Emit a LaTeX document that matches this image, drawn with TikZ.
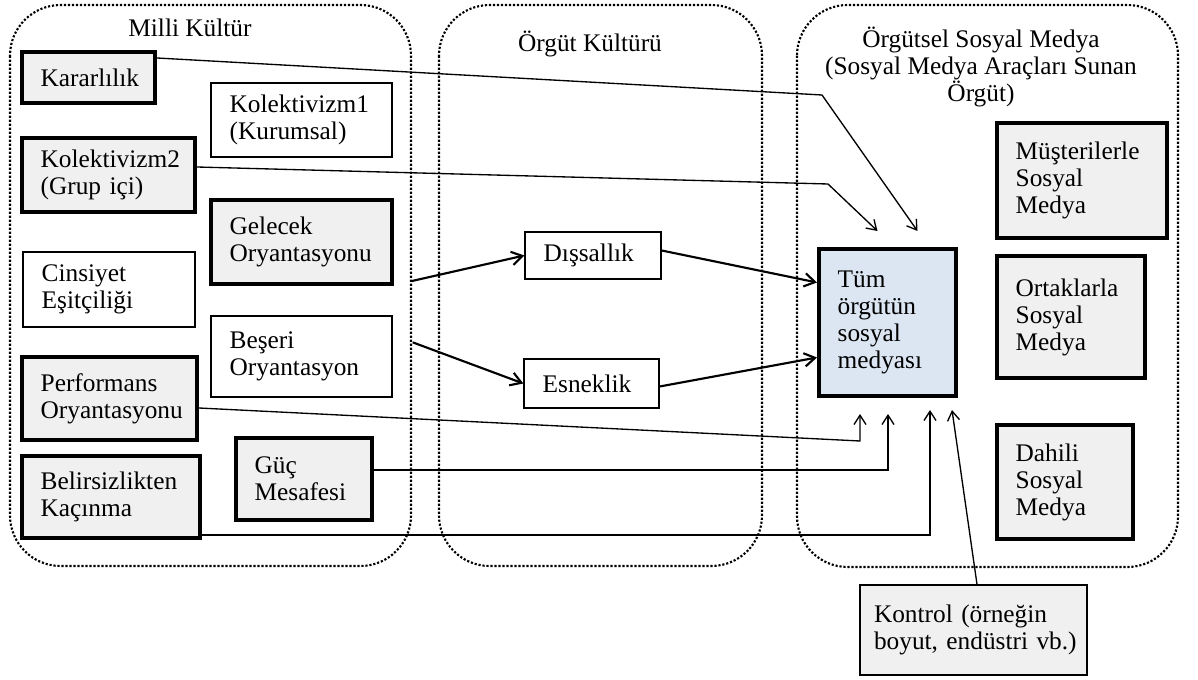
\documentclass[tikz,border=0pt]{standalone}
\usepackage{fontspec}
\setmainfont{Liberation Serif}
\usetikzlibrary{arrows.meta,calc}
\definecolor{boxgray}{RGB}{240,240,240}
\definecolor{boxblue}{RGB}{220,230,242}
\begin{document}
\begin{tikzpicture}[x=0.75pt,y=-0.75pt,
  font=\fontsize{19pt}{20.25pt}\selectfont,
  execute at begin node={\hyphenpenalty=10000\exhyphenpenalty=10000\hbadness=10000},
  group/.style={line width=1.6pt, dash pattern=on 1.6pt off 1.4pt, rounded corners=38pt},
  title/.style={align=center, inner sep=0pt},
  basebox/.style={draw, align=left, inner xsep=14pt, inner ysep=0pt},
  strong/.style={basebox, line width=3pt, fill=boxgray},
  plain/.style={basebox, line width=1pt, fill=white},
  link/.style={line width=1pt, -{Straight Barb[length=7pt,width=9pt]}},
  flow/.style={line width=1.6pt, -{Straight Barb[length=8pt,width=10pt]}},
]
\useasboundingbox (0,0) rectangle (1198,680);

% the three groups
\draw[group] (10,5) rectangle (411,566);
\draw[group] (439,5) rectangle (762,566);
\draw[group] (797,5) rectangle (1178,567);
\node[title, anchor=base] (tmilli) at (190,37) {Milli Kültür};
\node[title, anchor=base] (torgut) at (590,52) {Örgüt Kültürü};
\node[title] (tsosyal) at (981,67) {Örgütsel Sosyal Medya\\(Sosyal Medya Araçları Sunan\\Örgüt)};

% national culture dimensions
\node[strong, minimum width=99.75pt, minimum height=38.25pt, text width=71.75pt] (kar) at (88.5,77.5) {Kararlılık};
\node[plain, minimum width=135.75pt, minimum height=55.5pt, text width=107.75pt] (kol1) at (301.5,120) {Kolektivizm1\\(Kurumsal)};
\node[strong, minimum width=129.75pt, minimum height=55.5pt, text width=101.75pt] (kol2) at (108.5,175) {Kolektivizm2\\(Grup içi)};
\node[strong, minimum width=135.75pt, minimum height=63pt, text width=107.75pt] (gel) at (301.5,242) {Gelecek\\Oryantasyonu};
\node[plain, minimum width=129pt, minimum height=56.25pt, text width=101pt] (cin) at (109,289.5) {Cinsiyet\\Eşitçiliği};
\node[plain, minimum width=135.75pt, minimum height=60.75pt, text width=107.75pt] (bes) at (301.5,356.5) {Beşeri\\Oryantasyon};
\node[strong, minimum width=131.25pt, minimum height=62.25pt, text width=103.25pt] (perf) at (109.5,398.5) {Performans\\Oryantasyonu};
\node[strong, minimum width=102pt, minimum height=61.5pt, text width=74pt] (guc) at (304,479) {Güç\\Mesafesi};
\node[strong, minimum width=133.5pt, minimum height=61.5pt, text width=105.5pt] (bel) at (111,497) {Belirsizlikten\\Kaçınma};

% organisational culture
\node[plain, minimum width=102pt, minimum height=35.25pt, text width=74pt] (dis) at (593,255.5) {Dışsallık};
\node[plain, minimum width=101.25pt, minimum height=36.75pt, text width=73.25pt] (esn) at (591.5,383.5) {Esneklik};

% organisational social media
\node[basebox, line width=3pt, fill=boxblue, minimum width=102.75pt, minimum height=110.25pt, text width=74.75pt] (tum) at (887.5,322.5) {Tüm\\örgütün\\sosyal\\medyası\par\vspace{9.75pt}};
\node[strong, minimum width=127.5pt, minimum height=86.25pt, text width=99.5pt] (mus) at (1082,180.5) {Müşterilerle\\Sosyal\\Medya\par\vspace{8pt}};
\node[strong, minimum width=111pt, minimum height=91.5pt, text width=83pt] (ort) at (1071,317) {Ortaklarla\\Sosyal\\Medya\par\vspace{13.5pt}};
\node[strong, minimum width=102pt, minimum height=85.5pt, text width=74pt] (dah) at (1065,482) {Dahili\\Sosyal\\Medya};
\node[basebox, line width=1pt, fill=boxgray, inner xsep=10.5pt, minimum width=170.25pt, minimum height=67.5pt, text width=149.25pt] (kon) at (973.5,630) {Kontrol~(örneğin\\boyut,~endüstri~vb.)\par\vspace{13.5pt}};

% connector ends and bends
\coordinate (karS) at ($(kar.north east)+(0,8)$);
\coordinate (karB) at (822,95);
\coordinate (karT) at ($(tum.north)+(30,-16)$);
\coordinate (kolS) at ($(kol2.east)+(0,-8)$);
\coordinate (kolB) at (828,184);
\coordinate (kolT) at ($(tum.north)+(-10,-16)$);
\coordinate (gelS) at ($(gel.south east)+(18,-5)$);
\coordinate (besS) at ($(bes.north east)+(20,27)$);
\coordinate (perfS) at ($(perf.east)+(0,9.5)$);
\coordinate (perfB) at (860,441);
\coordinate (perfT) at ($(tum.south)+(-27.5,16)$);
\coordinate (gucS) at ($(guc.east)+(0,-9)$);
\coordinate (gucT) at ($(tum.south)+(0.5,16)$);
\coordinate (belS) at ($(bel.south east)+(0,-5)$);
\coordinate (belT) at ($(tum.south)+(42.5,12)$);
\coordinate (konS) at ($(kon.north)+(3.5,0)$);
\coordinate (konT) at ($(tum.south)+(64.5,12)$);

% connectors
\draw[link] (karS) -- (karB) -- (karT);
\draw[link] (kolS) -- (kolB) -- (kolT);
\draw[flow] (gelS) -- (dis.west);
\draw[flow] (besS) -- (esn.west);
\draw[flow] ($(dis.east)+(0,-5)$) -- ($(tum.west)+(0,-40)$);
\draw[flow] ($(esn.east)+(0,3)$) -- ($(tum.west)+(0,35)$);
\draw[link] (perfS) -- (perfB) -- (perfT);
\draw[link] (gucS) -| (gucT);
\draw[link] (belS) -| (belT);
\draw[link] (konS) -- (konT);
\end{tikzpicture}
\end{document}
